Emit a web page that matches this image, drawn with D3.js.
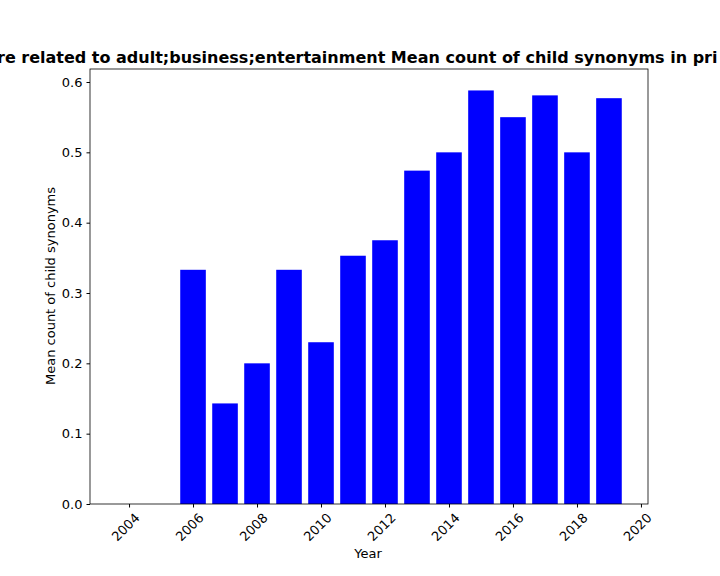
<!DOCTYPE html><html><head><script src="https://cdn.jsdelivr.net/npm/d3@7"></script>
<style>body{margin:0;background:#fff}text{font-family:"DejaVu Sans",sans-serif}</style></head><body>
<svg id="c" width="720" height="576"></svg>
<script>
const years=[2004,2005,2006,2007,2008,2009,2010,2011,2012,2013,2014,2015,2016,2017,2018,2019];
const values=[0,0,0.333,0.143,0.2,0.333,0.23,0.353,0.375,0.474,0.5,0.588,0.55,0.581,0.5,0.577];
const xTicks=[2004,2006,2008,2010,2012,2014,2016,2018,2020];
const yTicks=[0,0.1,0.2,0.3,0.4,0.5,0.6];
const svg=d3.select("#c");
const L=90,R=648,T=69,B=504;
const x=d3.scaleLinear().domain([2002.78,2020.22]).range([L,R]);
const y=d3.scaleLinear().domain([0,0.6185]).range([B,T]);
const bw=x(0.8)-x(0);
svg.selectAll("rect.b").data(years).enter().append("rect")
 .attr("x",(d)=>x(d-0.4)).attr("width",bw)
 .attr("y",(d,i)=>y(values[i])).attr("height",(d,i)=>B-y(values[i])).attr("fill","#0000ff");
const gx=svg.append("g").attr("transform",`translate(0,${B})`)
 .call(d3.axisBottom(x).tickValues(xTicks).tickFormat(d3.format("d")).tickSize(3.5).tickPadding(3));
gx.selectAll("text").attr("font-size",13).attr("fill","#000").attr("text-anchor","end")
 .attr("transform","rotate(-45)").attr("dx","-0.2em").attr("dy","0.9em");
const gy=svg.append("g").attr("transform",`translate(${L},0)`)
 .call(d3.axisLeft(y).tickValues(yTicks).tickFormat(d3.format(".1f")).tickSize(3.5).tickPadding(4));
gy.selectAll("text").attr("font-size",13).attr("fill","#000");
svg.selectAll(".domain").remove();
svg.append("rect").attr("x",L).attr("y",T).attr("width",R-L).attr("height",B-T).attr("fill","none").attr("stroke","#000").attr("stroke-width",0.8);
svg.append("text").attr("x",368).attr("y",558).attr("text-anchor","middle").attr("font-size",13).text("Year");
svg.append("text").attr("transform","translate(55,286) rotate(-90)").attr("text-anchor","middle").attr("font-size",13).text("Mean count of child synonyms");
svg.append("text").attr("x",-3).attr("y",63).attr("font-size",16).attr("font-weight","bold").text("re related to adult;business;entertainment Mean count of child synonyms in pri");
</script></body></html>
